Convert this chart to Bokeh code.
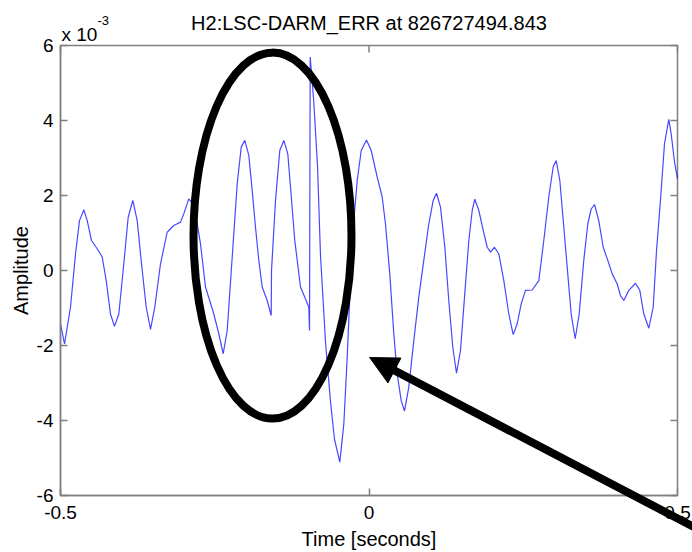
import math
from bokeh.plotting import figure
from bokeh.models import Range1d, FixedTicker, Label, Arrow, NormalHead
from bokeh.embed import file_html
from bokeh.resources import INLINE

# ---------------- data ----------------
title_text = "H2:LSC-DARM_ERR at 826727494.843"
x_label = "Time [seconds]"
y_label = "Amplitude"
y_multiplier = "x 10"
y_multiplier_exp = "-3"

x_ticks = [-0.5, 0, 0.5]
x_tick_labels = ["-0.5", "0", "0.5"]
y_ticks = [-6, -4, -2, 0, 2, 4, 6]
y_tick_labels = ["-6", "-4", "-2", "0", "2", "4", "6"]

# time in seconds
time_s = [
    -0.5000, -0.4935, -0.4838, -0.4757, -0.4692, -0.4622, -0.4567, -0.4498, -0.4405, -0.4324,
    -0.4259, -0.4190, -0.4125, -0.4055, -0.3974, -0.3903, -0.3828, -0.3757, -0.3687, -0.3611,
    -0.3541, -0.3472, -0.3379, -0.3271, -0.3164, -0.3055, -0.3002, -0.2921, -0.2856, -0.2784,
    -0.2731, -0.2650, -0.2515, -0.2434, -0.2363, -0.2298, -0.2217, -0.2136, -0.2071, -0.2013,
    -0.1948, -0.1893, -0.1840, -0.1786, -0.1731, -0.1650, -0.1585, -0.1580, -0.1515, -0.1446,
    -0.1381, -0.1316, -0.1272, -0.1203, -0.1110, -0.1029, -0.0976, -0.0964, -0.0953, -0.0895,
    -0.0835, -0.0786, -0.0705, -0.0624, -0.0559, -0.0473, -0.0408, -0.0353, -0.0300, -0.0246,
    -0.0191, -0.0126, -0.0041, 0.0036, 0.0133, 0.0214, 0.0267, 0.0337, 0.0402, 0.0457,
    0.0522, 0.0575, 0.0645, 0.0726, 0.0807, 0.0888, 0.0969, 0.1041, 0.1094, 0.1159,
    0.1229, 0.1293, 0.1358, 0.1418, 0.1483, 0.1548, 0.1618, 0.1673, 0.1715, 0.1780,
    0.1851, 0.1916, 0.1969, 0.2034, 0.2104, 0.2185, 0.2266, 0.2337, 0.2402, 0.2467,
    0.2536, 0.2645, 0.2752, 0.2833, 0.2914, 0.2985, 0.3034, 0.3093, 0.3157, 0.3212,
    0.3277, 0.3342, 0.3407, 0.3481, 0.3546, 0.3601, 0.3655, 0.3724, 0.3796, 0.3870,
    0.3942, 0.4023, 0.4076, 0.4130, 0.4211, 0.4319, 0.4389, 0.4454, 0.4535, 0.4606,
    0.4660, 0.4724, 0.4789, 0.4859, 0.4898, 0.4951, 0.5000,
]

# amplitude in units of 10^-3
amplitude_e3 = [
    -1.42, -1.96, -0.98, 0.44, 1.33, 1.62, 1.33, 0.80, 0.58, 0.36,
    -0.27, -1.16, -1.49, -1.16, 0.18, 1.42, 1.87, 1.33, 0.18, -0.98,
    -1.57, -0.98, 0.18, 1.02, 1.20, 1.29, 1.51, 1.91, 1.78, 1.25,
    0.71, -0.44, -1.16, -1.69, -2.22, -1.60, 0.36, 2.31, 3.29, 3.47,
    3.07, 2.13, 1.16, 0.27, -0.44, -0.80, -1.20, 0.00, 1.87, 3.20,
    3.47, 3.11, 2.22, 0.80, -0.44, -0.76, -0.98, -1.60, 5.69, 4.50,
    2.80, 0.40, -1.90, -3.50, -4.50, -5.11, -4.09, -2.31, -0.27, 1.33,
    2.40, 3.20, 3.48, 3.20, 2.49, 1.96, 1.24, -0.09, -1.69, -2.76,
    -3.47, -3.75, -3.11, -1.87, -0.71, 0.27, 1.24, 1.87, 2.06, 1.69,
    0.62, -0.80, -2.04, -2.74, -2.13, -0.71, 0.80, 1.60, 1.90, 1.60,
    1.07, 0.62, 0.49, 0.62, 0.44, -0.27, -1.16, -1.71, -1.42, -0.89,
    -0.53, -0.52, -0.27, 0.80, 1.96, 2.76, 2.93, 2.40, 1.16, 0.09,
    -1.16, -1.82, -1.16, 0.27, 1.24, 1.64, 1.76, 1.33, 0.62, 0.27,
    -0.09, -0.36, -0.67, -0.80, -0.53, -0.34, -0.53, -1.16, -1.54, -0.98,
    0.53, 1.87, 3.38, 4.03, 3.64, 2.90, 2.45,
]

# hand-drawn annotations (ellipse around the glitch region, arrow)
ellipse_center = (-0.1564, 0.93)
ellipse_size = (0.256, 9.76)
arrow_tail = (0.537, -6.93)
arrow_head = (0.001, -2.32)

# ---------------- layout ----------------
W, H = 692, 552
FRAME_L, FRAME_R, FRAME_T, FRAME_B = 60, 677, 45, 495   # pixel box of the axes
x_lo, x_hi = x_ticks[0], x_ticks[-1]
y_lo, y_hi = y_ticks[0], y_ticks[-1]
sx = (FRAME_R - FRAME_L) / (x_hi - x_lo)
sy = (FRAME_B - FRAME_T) / (y_hi - y_lo)
x_range = Range1d(x_lo - FRAME_L / sx, x_hi + (W - FRAME_R) / sx)
y_range = Range1d(y_lo - (H - FRAME_B) / sy, y_hi + FRAME_T / sy)

FONT = "Liberation Sans"
FRAME = "#7f7f7f"

p = figure(
    width=W, height=H, x_range=x_range, y_range=y_range,
    output_backend="svg", toolbar_location=None,
    min_border=0, min_border_left=0, min_border_right=0,
    min_border_top=0, min_border_bottom=0,
)
p.title.visible = False
p.background_fill_color = "white"
p.border_fill_color = "white"
p.outline_line_color = None
p.grid.visible = False

# axes box
p.quad(left=[x_lo], right=[x_hi], bottom=[y_lo], top=[y_hi],
       fill_color=None, line_color=FRAME, line_width=1.5)

xa, ya = p.xaxis[0], p.yaxis[0]
xa.fixed_location = y_lo
ya.fixed_location = x_lo
xa.bounds = (x_lo, x_hi)
ya.bounds = (y_lo, y_hi)
xa.ticker = FixedTicker(ticks=x_ticks)
ya.ticker = FixedTicker(ticks=y_ticks)
xa.major_label_overrides = dict(zip(x_ticks, x_tick_labels))
ya.major_label_overrides = dict(zip(y_ticks, y_tick_labels))
for ax in (xa, ya):
    ax.axis_line_color = FRAME
    ax.axis_line_width = 1.5
    ax.major_tick_line_color = FRAME
    ax.major_tick_line_width = 1.5
    ax.major_tick_in = 7
    ax.major_tick_out = 0
    ax.minor_tick_line_color = None
    ax.major_label_text_font = FONT
    ax.major_label_text_font_size = "19px"
    ax.major_label_text_color = "black"
    ax.axis_label_text_font = FONT
    ax.axis_label_text_font_size = "20px"
    ax.axis_label_text_font_style = "normal"
    ax.axis_label_text_color = "black"
xa.axis_label = x_label
ya.axis_label = y_label
xa.major_label_standoff = 10
ya.major_label_standoff = 7
xa.axis_label_standoff = 6
ya.axis_label_standoff = 2

# mirrored inward ticks on the top and right edges
p.ray(x=x_ticks, y=[y_hi] * len(x_ticks), length=7, length_units="screen",
      angle=-math.pi / 2, line_color=FRAME, line_width=1.5)
p.ray(x=[x_hi] * len(y_ticks), y=y_ticks, length=7, length_units="screen",
      angle=math.pi, line_color=FRAME, line_width=1.5)

# the signal
p.line(time_s, amplitude_e3, line_color="#0000ff", line_width=1.2, line_alpha=0.72)

# title and exponent
p.add_layout(Label(x=(x_lo + x_hi) / 2, y=y_hi, text=title_text, y_offset=23,
                   text_font=FONT, text_font_size="20px", text_baseline="alphabetic",
                   text_align="center", text_color="black"))
p.add_layout(Label(x=x_lo, y=y_hi, text=y_multiplier, x_offset=1, y_offset=11,
                   text_font=FONT, text_font_size="19px", text_baseline="alphabetic",
                   text_align="left", text_color="black"))
p.add_layout(Label(x=x_lo, y=y_hi, text=y_multiplier_exp, x_offset=37, y_offset=25,
                   text_font=FONT, text_font_size="13px", text_baseline="alphabetic",
                   text_align="left", text_color="black"))

# annotations
p.ellipse(x=[ellipse_center[0]], y=[ellipse_center[1]],
          width=[ellipse_size[0]], height=[ellipse_size[1]],
          fill_color=None, line_color="black", line_width=8)
p.add_layout(Arrow(x_start=arrow_tail[0], y_start=arrow_tail[1],
                   x_end=arrow_head[0], y_end=arrow_head[1],
                   line_color="black", line_width=8,
                   end=NormalHead(size=28, fill_color="black", line_color="black", line_width=1)))

open("out.html", "w").write(file_html(p, INLINE))
